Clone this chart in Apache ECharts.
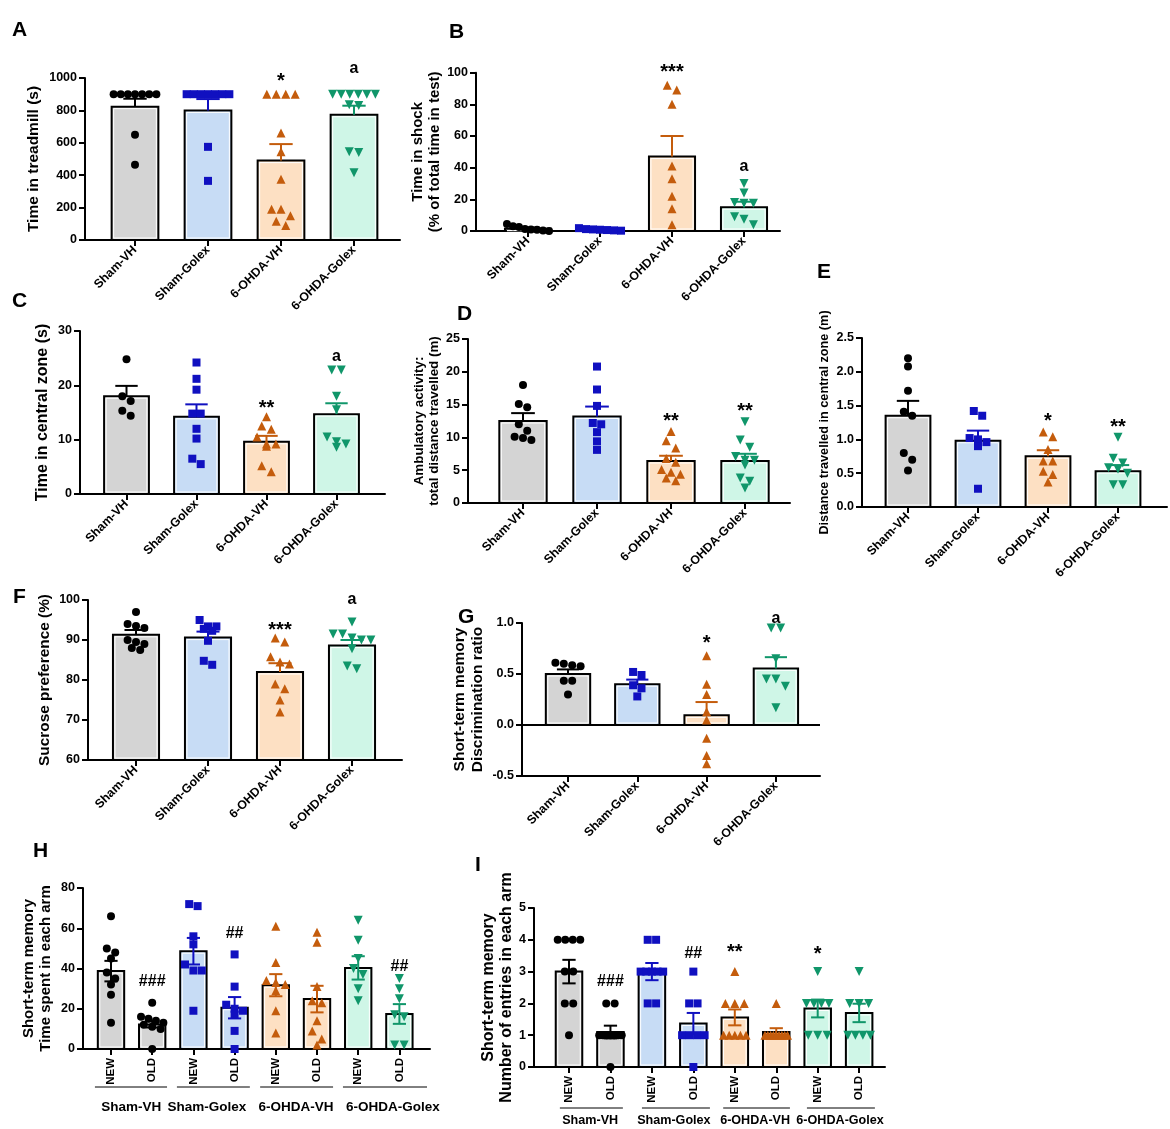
<!DOCTYPE html>
<html>
<head>
<meta charset="utf-8">
<script src="https://cdn.jsdelivr.net/npm/echarts@6/dist/echarts.min.js"></script>
<style>
html, body { margin: 0; background: #fff; }
#main { width: 1170px; height: 1129px; }
</style>
</head>
<body>
<div id="main"></div>
<script>
var groups = ['Sham-VH', 'Sham-Golex', '6-OHDA-VH', '6-OHDA-Golex'];
var arms = ['NEW', 'OLD', 'NEW', 'OLD', 'NEW', 'OLD', 'NEW', 'OLD'];

// A - treadmill
var treadmillMean = [823, 800, 490, 773];
var treadmillSem = [49, 70, 102, 56];
var treadmillPts = [
    [900, 900, 900, 900, 900, 900, 900, 650, 465],
    [900, 900, 900, 900, 900, 900, 900, 575, 365],
    [900, 900, 900, 900, 660, 545, 375, 190, 190, 150, 115, 90],
    [900, 900, 900, 900, 900, 900, 835, 830, 545, 540, 415]
];
var treadmillSig = ['', '', '*', 'a'];
var treadmillSigY = [0, 0, 1006, 1055];

// B - time in shock
var shockMean = [1.5, 0.8, 47, 15];
var shockSem = [0.6, 0.3, 13, 3.5];
var shockPts = [
    [4.5, 3, 2.5, 1.2, 1, 0.8, 0.3, 0],
    [1.8, 1.2, 1.0, 0.8, 0.6, 0.4, 0.2],
    [92, 89, 80, 41, 33, 22, 14, 4],
    [30, 24, 18, 17.5, 17.5, 9, 7.5, 4]
];
var shockSig = ['', '', '***', 'a'];
var shockSigY = [0, 0, 102.5, 41];

// C - time in central zone
var centralMean = [18.0, 14.2, 9.6, 14.7];
var centralSem = [1.9, 2.3, 1.1, 2.0];
var centralPts = [
    [24.8, 18.0, 17.1, 15.3, 14.4],
    [24.2, 21.2, 19.2, 14.8, 14.8, 12.0, 10.2, 6.5, 5.5],
    [14.2, 12.5, 11.9, 10.5, 9.2, 9.2, 8.8, 5.2, 4.1],
    [22.8, 22.8, 18.0, 15.5, 10.5, 9.6, 9.2, 8.6]
];
var centralSig = ['', '', '**', 'a'];
var centralSigY = [0, 0, 16.4, 25.2];

// D - ambulatory activity
var ambulMean = [12.5, 13.2, 6.4, 6.4];
var ambulSem = [1.2, 1.5, 0.8, 1.1];
var ambulPts = [
    [18.0, 15.1, 14.6, 12.0, 11.0, 10.1, 9.9, 9.6],
    [20.8, 17.3, 14.8, 12.2, 12.0, 10.8, 9.4, 8.1],
    [10.9, 9.5, 8.4, 6.8, 6.2, 5.1, 4.7, 4.4, 3.8, 3.4],
    [12.4, 9.6, 8.5, 7.1, 6.5, 6.5, 5.8, 3.8, 3.3, 2.3]
];
var ambulSig = ['', '', '**', '**'];
var ambulSigY = [0, 0, 13.1, 14.5];

// E - distance in central zone
var distMean = [1.35, 0.98, 0.75, 0.53];
var distSem = [0.22, 0.15, 0.09, 0.09];
var distPts = [
    [2.2, 2.08, 1.72, 1.41, 1.35, 0.8, 0.7, 0.54],
    [1.42, 1.35, 1.02, 1.0, 0.96, 0.9, 0.27],
    [1.11, 1.04, 0.85, 0.68, 0.68, 0.53, 0.48, 0.37],
    [1.03, 0.72, 0.65, 0.58, 0.56, 0.5, 0.33, 0.33]
];
var distSig = ['', '', '*', '**'];
var distSigY = [0, 0, 1.32, 1.23];

// F - sucrose preference
var sucroseMean = [91.3, 90.6, 82.0, 88.6];
var sucroseSem = [1.2, 1.5, 2.2, 1.4];
var sucrosePts = [
    [97, 94, 93.5, 93, 90, 89.5, 89, 88, 87.5],
    [95, 93.4, 93.4, 92.8, 92.3, 89.8, 84.8, 83.8],
    [90.5, 89.5, 85.8, 84.5, 84, 79, 77.8, 75, 72],
    [94.5, 91.5, 91.5, 90.5, 90, 90, 87.8, 83.5, 82.8]
];
var sucroseSig = ['', '', '***', 'a'];
var sucroseSigY = [0, 0, 93.3, 100];

// G - discrimination ratio
var discMean = [0.50, 0.40, 0.095, 0.555];
var discSem = [0.045, 0.045, 0.13, 0.11];
var discPts = [
    [0.61, 0.60, 0.585, 0.575, 0.435, 0.435, 0.30],
    [0.52, 0.49, 0.39, 0.36, 0.28],
    [0.68, 0.40, 0.30, 0.13, 0.05, -0.13, -0.30, -0.38],
    [0.95, 0.95, 0.65, 0.45, 0.45, 0.38, 0.17]
];
var discSig = ['', '', '*', 'a'];
var discSigY = [0, 0, 0.835, 1.04];

// H - time spent in each arm (NEW/OLD per group)
var armTimeMean = [38.7, 12.2, 48.6, 20.5, 31.7, 24.8, 40.3, 17.4];
var armTimeSem = [5.1, 1.5, 6.6, 5.3, 5.5, 6.6, 5.8, 4.9];
var armTimePts = [
    [66, 50, 48, 45, 38, 35, 32, 27, 13],
    [23, 16, 15, 14, 13, 12, 11, 10, 0],
    [72, 71, 56, 52, 42, 39, 39, 19],
    [47, 31, 22, 20, 19, 17, 9, 0],
    [61, 43, 34, 33, 32, 29, 19, 8],
    [58, 53, 31, 24, 23, 14, 9, 5, 2],
    [64, 54, 45, 40, 37, 30, 24],
    [35, 30, 25, 17, 16, 2, 2]
];
var armTimeSig = ['', '###', '', '##', '', '', '', '##'];
var armTimeSigY = [0, 33.4, 0, 57.5, 0, 0, 0, 40.8];

// I - number of entries in each arm
var entriesMean = [3.0, 1.1, 3.0, 1.37, 1.56, 1.1, 1.84, 1.7];
var entriesSem = [0.37, 0.2, 0.27, 0.33, 0.25, 0.12, 0.28, 0.29];
var entriesPts = [
    [4, 4, 4, 4, 3, 3, 2, 2, 1],
    [2, 2, 1, 1, 1, 1, 1, 1, 1, 0],
    [4, 4, 3, 3, 3, 3, 3, 2, 2],
    [3, 2, 2, 1, 1, 1, 1, 0],
    [3, 2, 2, 2, 1, 1, 1, 1, 1],
    [2, 1, 1, 1, 1, 1, 1, 1, 1, 1],
    [3, 2, 2, 2, 2, 1, 1, 1],
    [3, 2, 2, 2, 1, 1, 1, 1]
];
var entriesSig = ['', '###', '', '##', '**', '', '*', ''];
var entriesSigY = [0, 2.68, 0, 3.57, 3.73, 0, 3.67, 0];

// colours per group
var fills = ['#d4d4d4', '#c7dcf5', '#fde0c3', '#cff6e7'];
var darks = ['#000000', '#1010c0', '#c45c0c', '#10966a'];
var symbols = ['circle', 'rect', 'triangle', 'triangle'];
var symRot = [0, 0, 0, 180];
var symSize = [8, 8, 9, 9];
var FONT = 'Liberation Sans';

var panels = [
    { letter: 'A', lx: 12, ly: 20, mean: treadmillMean, sem: treadmillSem, pts: treadmillPts, sig: treadmillSig, sigY: treadmillSigY,
      name: 'Time in treadmill (s)', nameSize: 15.5, nameGap: 43, ymin: 0, ymax: 1000, step: 200,
      left: 85, right: 400, top: 78, bottom: 240, c0: 135, sp: 73 },
    { letter: 'B', lx: 449, ly: 22, mean: shockMean, sem: shockSem, pts: shockPts, sig: shockSig, sigY: shockSigY,
      name: 'Time in shock\n(% of total time in test)', nameSize: 15, nameGap: 29, ymin: 0, ymax: 100, step: 20,
      left: 476, right: 780, top: 72.7, bottom: 231, c0: 528, sp: 72 },
    { letter: 'C', lx: 12, ly: 291, mean: centralMean, sem: centralSem, pts: centralPts, sig: centralSig, sigY: centralSigY,
      name: 'Time in central zone (s)', nameSize: 16, nameGap: 28, ymin: 0, ymax: 30, step: 10,
      left: 80, right: 385, top: 331, bottom: 494, c0: 126.5, sp: 70 },
    { letter: 'D', lx: 457, ly: 304, mean: ambulMean, sem: ambulSem, pts: ambulPts, sig: ambulSig, sigY: ambulSigY,
      name: 'Ambulatory activity:\ntotal distance travelled (m)', nameSize: 13.4, nameGap: 24, ymin: 0, ymax: 25, step: 5,
      left: 468, right: 790, top: 339, bottom: 503, c0: 523, sp: 74 },
    { letter: 'E', lx: 817, ly: 262, mean: distMean, sem: distSem, pts: distPts, sig: distSig, sigY: distSigY,
      name: 'Distance travelled in central zone (m)', nameSize: 12.7, nameGap: 30, ymin: 0, ymax: 2.5, step: 0.5, dec: 1,
      left: 862, right: 1167, top: 338, bottom: 507, c0: 908, sp: 70 },
    { letter: 'F', lx: 13, ly: 587, mean: sucroseMean, sem: sucroseSem, pts: sucrosePts, sig: sucroseSig, sigY: sucroseSigY,
      name: 'Sucrose preference (%)', nameSize: 15.4, nameGap: 35, ymin: 60, ymax: 100, step: 10,
      left: 88, right: 402, top: 600, bottom: 760, c0: 136, sp: 72 },
    { letter: 'G', lx: 458, ly: 607, mean: discMean, sem: discSem, pts: discPts, sig: discSig, sigY: discSigY,
      name: 'Short-term memory\nDiscrimination ratio', nameSize: 15.5, nameGap: 36, ymin: -0.5, ymax: 1, step: 0.5, dec: 1, zeroLine: true,
      left: 522, right: 820, top: 623, bottom: 776, c0: 568, sp: 69.3 },
    { letter: 'H', lx: 33, ly: 841, mean: armTimeMean, sem: armTimeSem, pts: armTimePts, sig: armTimeSig, sigY: armTimeSigY, paired: true,
      name: 'Short-term memory\nTime spent in each arm', nameSize: 15, nameGap: 29, ymin: 0, ymax: 80, step: 20,
      left: 83, right: 430, top: 888, bottom: 1049, c0: 111, sp: 41.2, lineOff: 38, textOff: 58, groupSize: 13.5,
      spans: [[-0.39, 1.36], [-0.4, 1.37], [-0.38, 1.39], [-0.37, 1.67]], namePos: [0.49, 0.33, 0.49, 0.84] },
    { letter: 'I', lx: 475, ly: 855, mean: entriesMean, sem: entriesSem, pts: entriesPts, sig: entriesSig, sigY: entriesSigY, paired: true,
      name: 'Short-term memory\nNumber of entries in each arm', nameSize: 16, nameGap: 12, ymin: 0, ymax: 5, step: 1,
      left: 534, right: 885, top: 908, bottom: 1067, c0: 569, sp: 41.45, lineOff: 41, textOff: 54, groupSize: 12.6,
      spans: [[-0.22, 1.3], [-0.24, 1.4], [-0.28, 1.33], [-0.26, 1.38]], namePos: [0.51, 0.53, 0.49, 0.54] }
];

// spread points of one bar into rows like Prism's scatter
function layoutPoints(vals, center, pxX, pxY, size, maxW) {
    var idx = vals.map(function (v, i) { return i; }).sort(function (a, b) { return vals[b] - vals[a]; });
    var rows = [], cur = null;
    idx.forEach(function (i) {
        if (cur && (vals[cur[0]] - vals[i]) * pxY < size * 0.9) {
            cur.push(i);
        } else {
            cur = [i];
            rows.push(cur);
        }
    });
    var out = [];
    rows.forEach(function (r) {
        var n = r.length;
        var step = n > 1 ? Math.min(size * 1.05, maxW / (n - 1)) : 0;
        r.forEach(function (i, j) {
            out.push([center + (j - (n - 1) / 2) * step / pxX, vals[i]]);
        });
    });
    return out;
}

var option = {
    animation: false,
    backgroundColor: '#fff',
    textStyle: { fontFamily: FONT },
    title: [],
    grid: [],
    xAxis: [],
    yAxis: [],
    series: []
};

var HW = 0.32;   // half bar width (category units)
var CAP = 0.16;  // half cap width

panels.forEach(function (p, k) {
    var n = p.mean.length;
    var xmin = (p.left - p.c0) / p.sp;
    var xmax = (p.right - p.c0) / p.sp;
    var labels = p.paired ? arms : groups;
    var ticks = [];
    for (var t = 0; t < n; t++) ticks.push(t);
    var grp = function (i) { return p.paired ? Math.floor(i / 2) : i; };
    var base = Math.max(p.ymin, 0);
    var pxY = (p.bottom - p.top) / (p.ymax - p.ymin);

    option.title.push({
        text: p.letter, left: p.lx, top: p.ly, padding: 0,
        textStyle: { fontSize: 21, fontWeight: 'bold', color: '#000', fontFamily: FONT }
    });
    option.grid.push({ left: p.left, top: p.top, width: p.right - p.left, height: p.bottom - p.top });
    option.xAxis.push({
        type: 'value', gridIndex: k, min: xmin, max: xmax,
        axisLine: { onZero: false, lineStyle: { color: '#000', width: 2 } },
        axisTick: { customValues: ticks, length: 6, lineStyle: { color: '#000', width: 2 } },
        axisLabel: {
            customValues: ticks,
            formatter: function (v) { return labels[Math.round(v)]; },
            rotate: p.paired ? 90 : 45, margin: p.paired ? 9 : 8,
            fontSize: p.paired ? 11.5 : 12.3, fontWeight: 'bold', color: '#000', fontFamily: FONT
        },
        splitLine: { show: false }
    });
    option.yAxis.push({
        type: 'value', gridIndex: k, min: p.ymin, max: p.ymax, interval: p.step,
        axisLine: { show: true, onZero: false, lineStyle: { color: '#000', width: 2 } },
        axisTick: { show: true, length: 6, lineStyle: { color: '#000', width: 2 } },
        axisLabel: {
            margin: 8, fontSize: 12.5, fontWeight: 'bold', color: '#000', fontFamily: FONT,
            formatter: function (v) { return p.dec ? v.toFixed(p.dec) : String(v); }
        },
        splitLine: { show: false },
        name: p.name, nameLocation: 'middle', nameRotate: 90, nameGap: p.nameGap,
        nameTextStyle: { fontSize: p.nameSize, fontWeight: 'bold', color: '#000', fontFamily: FONT, lineHeight: p.nameSize + 2 }
    });

    // bars
    option.series.push({
        type: 'custom', xAxisIndex: k, yAxisIndex: k, z: 2, silent: true,
        encode: { x: 0, y: 1 },
        data: p.mean.map(function (m, i) { return [i, m, base, grp(i)]; }),
        renderItem: function (params, api) {
            var i = api.value(0), g = api.value(3);
            var a = api.coord([i - HW, api.value(1)]);
            var b = api.coord([i + HW, api.value(2)]);
            var y = Math.min(a[1], b[1]), h = Math.abs(b[1] - a[1]), w = b[0] - a[0];
            return {
                type: 'group', children: [
                    { type: 'rect', shape: { x: a[0], y: y, width: w, height: h },
                      style: { fill: fills[g], stroke: '#000', lineWidth: 2 } },
                    { type: 'rect', shape: { x: a[0] + 2, y: y + 2, width: w - 4, height: Math.max(h - 4, 0) },
                      style: { fill: 'none', stroke: '#fff', lineWidth: 1 } }
                ]
            };
        }
    });

    // error bars
    option.series.push({
        type: 'custom', xAxisIndex: k, yAxisIndex: k, z: 3, silent: true,
        encode: { x: 0, y: 1 },
        data: p.mean.map(function (m, i) { return [i, m, p.sem[i], grp(i)]; }),
        renderItem: function (params, api) {
            var i = api.value(0), m = api.value(1), s = api.value(2), g = api.value(3);
            var top = api.coord([i, m + s]);
            var low = api.coord([i, p.paired ? m - s : m]);
            var tl = api.coord([i - CAP, m + s]), tr = api.coord([i + CAP, m + s]);
            var st = { stroke: darks[g], lineWidth: 2 };
            var ch = [
                { type: 'line', shape: { x1: top[0], y1: top[1], x2: low[0], y2: low[1] }, style: st },
                { type: 'line', shape: { x1: tl[0], y1: tl[1], x2: tr[0], y2: tr[1] }, style: st }
            ];
            if (p.paired) {
                var bl = api.coord([i - CAP, m - s]), br = api.coord([i + CAP, m - s]);
                ch.push({ type: 'line', shape: { x1: bl[0], y1: bl[1], x2: br[0], y2: br[1] }, style: st });
            }
            return { type: 'group', children: ch };
        }
    });

    // points
    var pts = [];
    p.pts.forEach(function (vals, i) {
        var g = grp(i);
        layoutPoints(vals, i, p.sp, pxY, symSize[g], p.sp * 2 * HW - 4).forEach(function (xy) {
            pts.push({
                value: xy, symbol: symbols[g], symbolRotate: symRot[g], symbolSize: symSize[g],
                itemStyle: { color: darks[g], opacity: 1 }
            });
        });
    });
    option.series.push({
        type: 'scatter', xAxisIndex: k, yAxisIndex: k, z: 4, silent: true, clip: false, data: pts,
        itemStyle: { opacity: 1 }
    });

    // significance labels
    option.series.push({
        type: 'custom', xAxisIndex: k, yAxisIndex: k, z: 5, silent: true, clip: false,
        encode: { x: 0, y: 1 },
        data: p.sig.map(function (s, i) { return [i, p.sigY[i], s]; }).filter(function (d) { return d[2]; }),
        renderItem: function (params, api) {
            var txt = p.sig[api.value(0)];
            var c = api.coord([api.value(0), api.value(1)]);
            var star = txt.indexOf('*') >= 0;
            return {
                type: 'text',
                style: {
                    text: txt, x: c[0], y: c[1] + (star ? 4 : 0), align: 'center', verticalAlign: 'middle',
                    fill: '#000', fontFamily: FONT, fontWeight: 'bold', fontSize: star ? 20 : 16
                }
            };
        }
    });

    if (p.zeroLine) {
        option.series.push({
            type: 'line', xAxisIndex: k, yAxisIndex: k, z: 3, silent: true, symbol: 'none',
            data: [[xmin, 0], [xmax, 0]], lineStyle: { color: '#000', width: 2 }
        });
    }

    if (p.paired) {
        option.series.push({
            type: 'custom', xAxisIndex: k, yAxisIndex: k, z: 5, silent: true, clip: false,
            encode: { x: 0, y: 1 },
            data: groups.map(function (name, g) { return [2 * g, p.ymin, g]; }),
            renderItem: function (params, api) {
                var x0 = api.value(0), g = api.value(2);
                var a = api.coord([x0 + p.spans[g][0], api.value(1)]);
                var b = api.coord([x0 + p.spans[g][1], api.value(1)]);
                var mid = api.coord([x0 + p.namePos[g], api.value(1)]);
                return {
                    type: 'group', children: [
                        { type: 'line', shape: { x1: a[0], y1: a[1] + p.lineOff, x2: b[0], y2: b[1] + p.lineOff },
                          style: { stroke: '#000', lineWidth: 1 } },
                        { type: 'text', style: {
                            text: groups[g], x: mid[0], y: mid[1] + p.textOff, align: 'center', verticalAlign: 'middle',
                            fill: '#000', fontFamily: FONT, fontWeight: 'bold', fontSize: p.groupSize } }
                    ]
                };
            }
        });
    }
});

var chart = echarts.init(document.getElementById('main'));
chart.setOption(option);
</script>
</body>
</html>
